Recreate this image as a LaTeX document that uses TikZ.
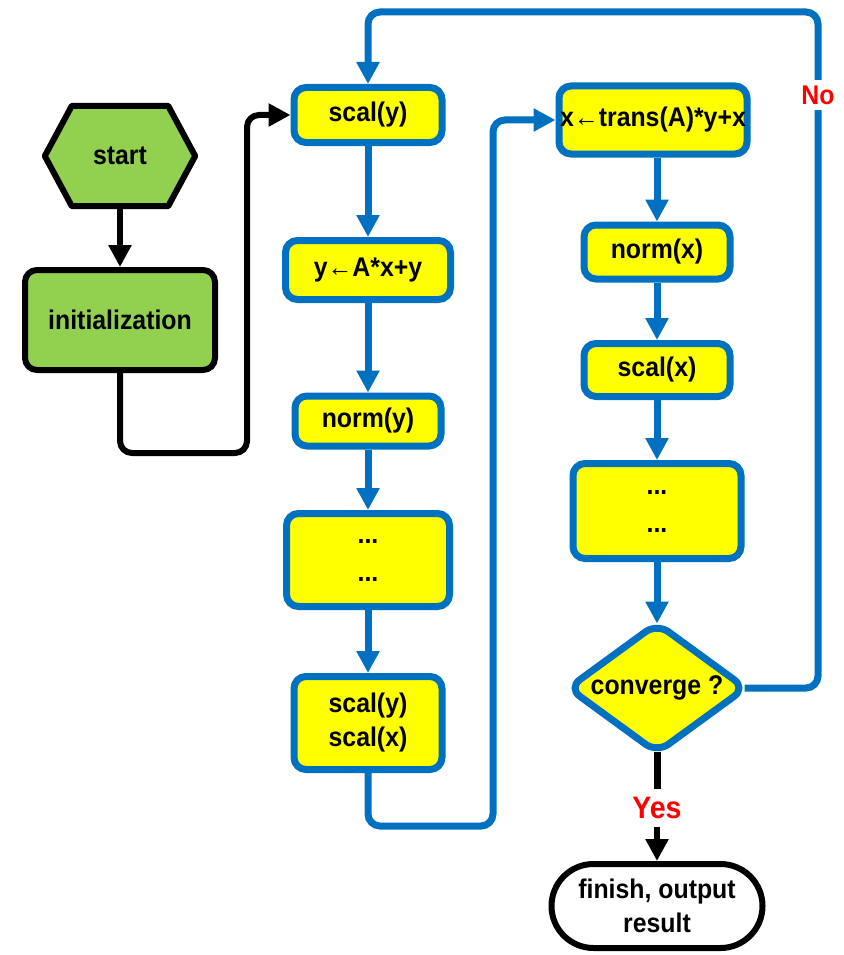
\documentclass[tikz,border=0pt]{standalone}
\usepackage{fontspec}
\setmainfont{Liberation Sans}[FakeStretch=0.92]
\usetikzlibrary{shapes.geometric,shapes.misc,arrows.meta}
\definecolor{bblue}{HTML}{0070C0}
\definecolor{lgreen}{HTML}{92D050}
\definecolor{yfill}{HTML}{FFFF00}
\definecolor{rred}{HTML}{FF0000}
\begin{document}
\begin{tikzpicture}[x=1pt,y=-1pt,
  txt/.style={font=\bfseries\fontsize{27}{34}\selectfont, align=center, inner sep=0pt},
  ybox/.style={txt, draw=bblue, fill=yfill, line width=7pt, rounded corners=12pt},
  gbox/.style={txt, draw=black, fill=lgreen, line width=6pt, rounded corners=12pt},
  barrow/.style={draw=bblue, line width=7pt, rounded corners=12pt, -{Triangle[length=22pt,width=22pt]}},
  karrow/.style={draw=black, line width=6pt, rounded corners=12pt, -{Triangle[length=22pt,width=22pt]}},
  kline/.style={draw=black, line width=7pt},
  lab/.style={font=\bfseries\fontsize{27}{30}\selectfont, text=rred, inner sep=2pt}
]
\useasboundingbox (0,0) rectangle (843,955);

% left green column
\node[txt, minimum width=150pt, minimum height=100pt] (start) at (120,156) {start};
\draw[black, line width=6pt, fill=lgreen, line join=round]
  (start.west) -- ([xshift=27pt]start.north west) -- ([xshift=-27pt]start.north east)
  -- (start.east) -- ([xshift=-27pt]start.south east) -- ([xshift=27pt]start.south west) -- cycle;
\node[txt] at (start.center) {start};
\node[gbox, minimum width=190pt, minimum height=100pt] (init) at (120,320) {initialization};

% middle column
\node[ybox, minimum width=148pt, minimum height=55pt] (scaly) at (368,115) {scal(y)};
\node[ybox, minimum width=165pt, minimum height=59pt] (yax) at (368,270) {y←A*x+y};
\node[ybox, minimum width=146pt, minimum height=50pt] (normy) at (368,421) {norm(y)};
\node[ybox, minimum width=163pt, minimum height=93pt] (dots1) at (368,560) {...\\[4pt]...};
\node[ybox, minimum width=148pt, minimum height=93pt] (scalyx) at (368,723) {scal(y)\\scal(x)};

% right column
\node[ybox, minimum width=188pt, minimum height=68pt] (trans) at (653,120) {x←trans(A)*y+x};
\node[ybox, minimum width=146pt, minimum height=54pt] (normx) at (657,252) {norm(x)};
\node[ybox, minimum width=146pt, minimum height=53pt] (scalx) at (657,370) {scal(x)};
\node[ybox, minimum width=168pt, minimum height=95pt] (dots2) at (657,511) {...\\[4pt]...};
\node[txt, diamond, aspect=1.35, draw=bblue, fill=yfill, line width=7pt, rounded corners=14pt,
      minimum width=180pt, minimum height=132pt] (conv) at (657,688) {converge ?};
\node[txt, rounded rectangle, draw=black, fill=white, line width=6pt,
      minimum width=211pt, minimum height=84pt] (finish) at (657,906) {finish, output\\result};

% black connectors
\draw[karrow] (start.south) -- (init.north);
\coordinate (c1) at (247,453);
\draw[karrow] (init.south) |- (c1) |- (scaly.west);

% middle column arrows
\draw[barrow] (scaly.south) -- (yax.north);
\draw[barrow] (yax.south) -- (normy.north);
\draw[barrow] (normy.south) -- (dots1.north);
\draw[barrow] (dots1.south) -- (scalyx.north);
\coordinate (c2) at (493,826);
\draw[barrow] (scalyx.south) |- (c2) |- (trans.west);

% right column arrows
\draw[barrow] (trans.south -| normx.north) -- (normx.north);
\draw[barrow] (normx.south) -- (scalx.north);
\draw[barrow] (scalx.south) -- (dots2.north);
\draw[barrow] (dots2.south) -- ([yshift=-5pt]conv.north);

% No loop
\coordinate (c3) at (818,12);
\draw[barrow] ([xshift=-6pt]conv.east) -| (c3) -| (scaly.north);
\node[lab, fill=white, inner ysep=6pt] (no) at (818,95) {No};

% Yes
\node[lab, font=\bfseries\fontsize{31}{34}\selectfont, inner sep=0pt, minimum height=38pt] (yes) at (657,808) {Yes};
\draw[kline] ([yshift=6pt]conv.south) -- (yes.north);
\draw[karrow] (yes.south) -- (finish.north);
\end{tikzpicture}
\end{document}
